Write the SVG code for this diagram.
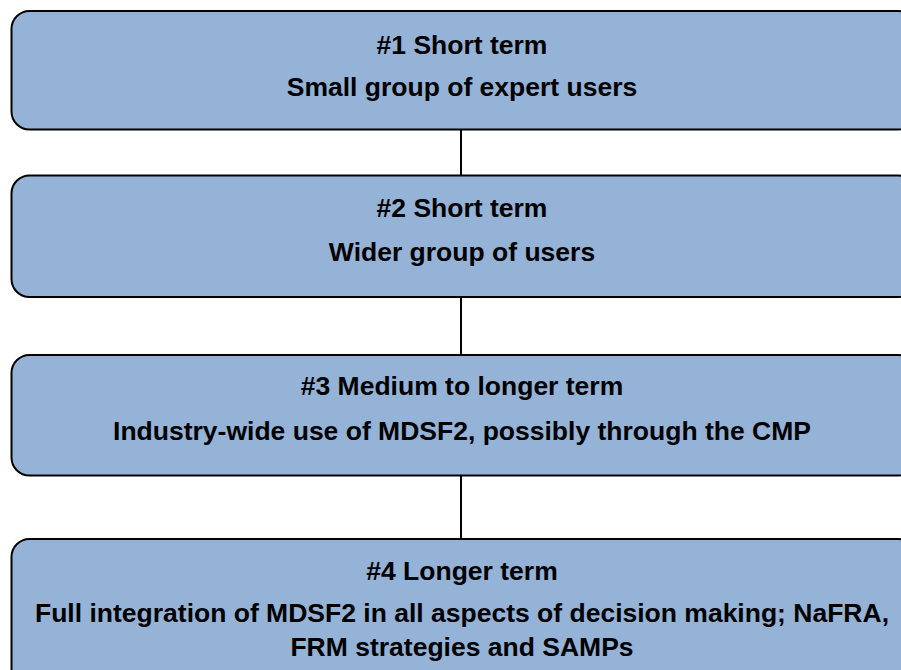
<svg xmlns="http://www.w3.org/2000/svg" width="901" height="670" viewBox="0 0 901 670">
<style>
.box{fill:#95B3D7;stroke:#000;stroke-width:2}
.t{font-family:"Liberation Sans",Arial,sans-serif;font-weight:bold;font-size:26.5px;fill:#000;text-anchor:middle}
.c{stroke:#000;stroke-width:2;fill:none}
</style>
<rect width="901" height="670" fill="#fff"/>
<g id="connectors">
<line class="c" x1="461" y1="129.5" x2="461" y2="175.5"/>
<line class="c" x1="461" y1="297" x2="461" y2="355"/>
<line class="c" x1="461" y1="475.5" x2="461" y2="539"/>
</g>
<g id="node1">
<rect class="box" x="11.5" y="11" width="905" height="118.5" rx="18"/>
<text class="t" x="462" y="53.5">#1 Short term</text>
<text class="t" x="462" y="95.5">Small group of expert users</text>
</g>
<g id="node2">
<rect class="box" x="11.5" y="175.5" width="905" height="121.5" rx="18"/>
<text class="t" x="462" y="216.5">#2 Short term</text>
<text class="t" x="462" y="260.5">Wider group of users</text>
</g>
<g id="node3">
<rect class="box" x="11.5" y="355" width="905" height="120.5" rx="18"/>
<text class="t" x="462" y="394.5">#3 Medium to longer term</text>
<text class="t" x="462" y="439.5">Industry-wide use of MDSF2, possibly through the CMP</text>
</g>
<g id="node4">
<rect class="box" x="11.5" y="539" width="905" height="150" rx="18"/>
<text class="t" x="462" y="579.5">#4 Longer term</text>
<text class="t" x="462" y="621.5">Full integration of MDSF2 in all aspects of decision making; NaFRA,</text>
<text class="t" x="462" y="655.5">FRM strategies and SAMPs</text>
</g>
</svg>
